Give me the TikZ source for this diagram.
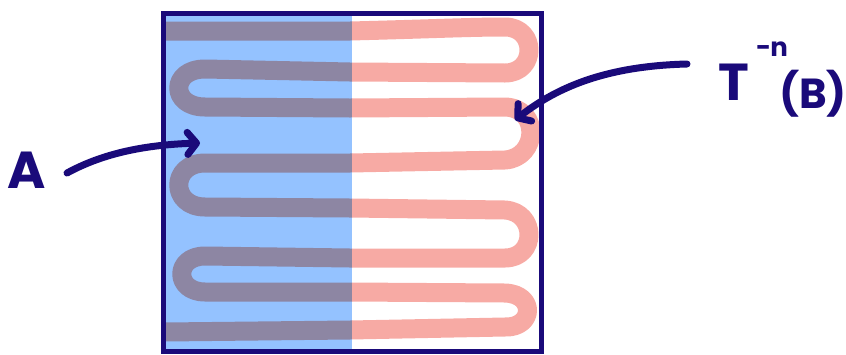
\documentclass[tikz,border=0pt]{standalone}
\usepackage{fontspec}
\setmainfont{Poppins}
\usetikzlibrary{arrows.meta}
\definecolor{ink}{RGB}{26,10,122}
\definecolor{setA}{RGB}{148,194,255}
\definecolor{band}{RGB}{247,170,164}
\definecolor{bandover}{RGB}{141,134,163}
% the serpentine preimage strip
\newcommand\serpentine{
  (165,31) -- (350,31) .. controls (430,29) and (470,27) .. (505,27)
  .. controls (537,27) and (537,73) .. (505,73)
  -- (350,72) -- (205,69) .. controls (170,69) and (170,107) .. (205,107)
  -- (350,108) -- (505,107) .. controls (541,108) and (538,158) .. (505,160)
  -- (350,163) -- (205,163) .. controls (170,163) and (170,207) .. (205,207)
  -- (350,208) -- (505,210) .. controls (537,212) and (537,258) .. (505,258)
  -- (350,258) -- (205,256) .. controls (174,256) and (174,292) .. (205,292)
  -- (350,292) -- (505,293) .. controls (536,294) and (534,328) .. (505,327)
  -- (350,330) -- (165,332)}
\tikzset{
  strip/.style={line width=19pt, line join=round},
  pen/.style={draw=ink, line width=7pt, line cap=round, line join=round},
  barb/.style={-{Straight Barb[length=9pt,width=22pt,line width=7pt,round]}},
  label/.style={text=ink, inner sep=0pt, font=\bfseries}
}
\begin{document}
\begin{tikzpicture}[x=1pt,y=-1pt]
  \useasboundingbox (0,0) rectangle (846,354);
  % set A: left part of the square
  \fill[setA] (165,14) rectangle (352,351);
  % strip, blended where it lies over A
  \begin{scope}
    \clip (165,0) rectangle (352,354);
    \draw[strip, bandover] \serpentine;
  \end{scope}
  \begin{scope}
    \clip (352,0) rectangle (846,354);
    \draw[strip, band] \serpentine;
  \end{scope}
  % the square
  \node[draw=ink, line width=5pt, minimum width=378pt, minimum height=338pt,
        inner sep=0pt] (sq) at (352,182) {};
  % labels
  \node[label, font=\bfseries\fontsize{52}{52}\selectfont] (A) at (27,170) {A};
  \node[label, font=\bfseries\fontsize{52}{52}\selectfont] (T) at (734,82) {T};
  \node[label, font=\bfseries\fontsize{26}{26}\selectfont] (exp) at (772,49) {−n};
  \node[label, font=\bfseries\fontsize{42}{42}\selectfont] (B) at (813,94) {(B)};
  % arrows
  \coordinate (aStart) at (67,173);
  \coordinate (aTip) at (200,143);
  \coordinate (tStart) at (687,64);
  \coordinate (tTip) at (515,120);
  \draw[pen, barb] (aStart) .. controls (100,155) and (140,145) .. (aTip);
  \draw[pen, barb] (tStart) .. controls (610,66) and (560,85) .. (tTip);
\end{tikzpicture}
\end{document}
